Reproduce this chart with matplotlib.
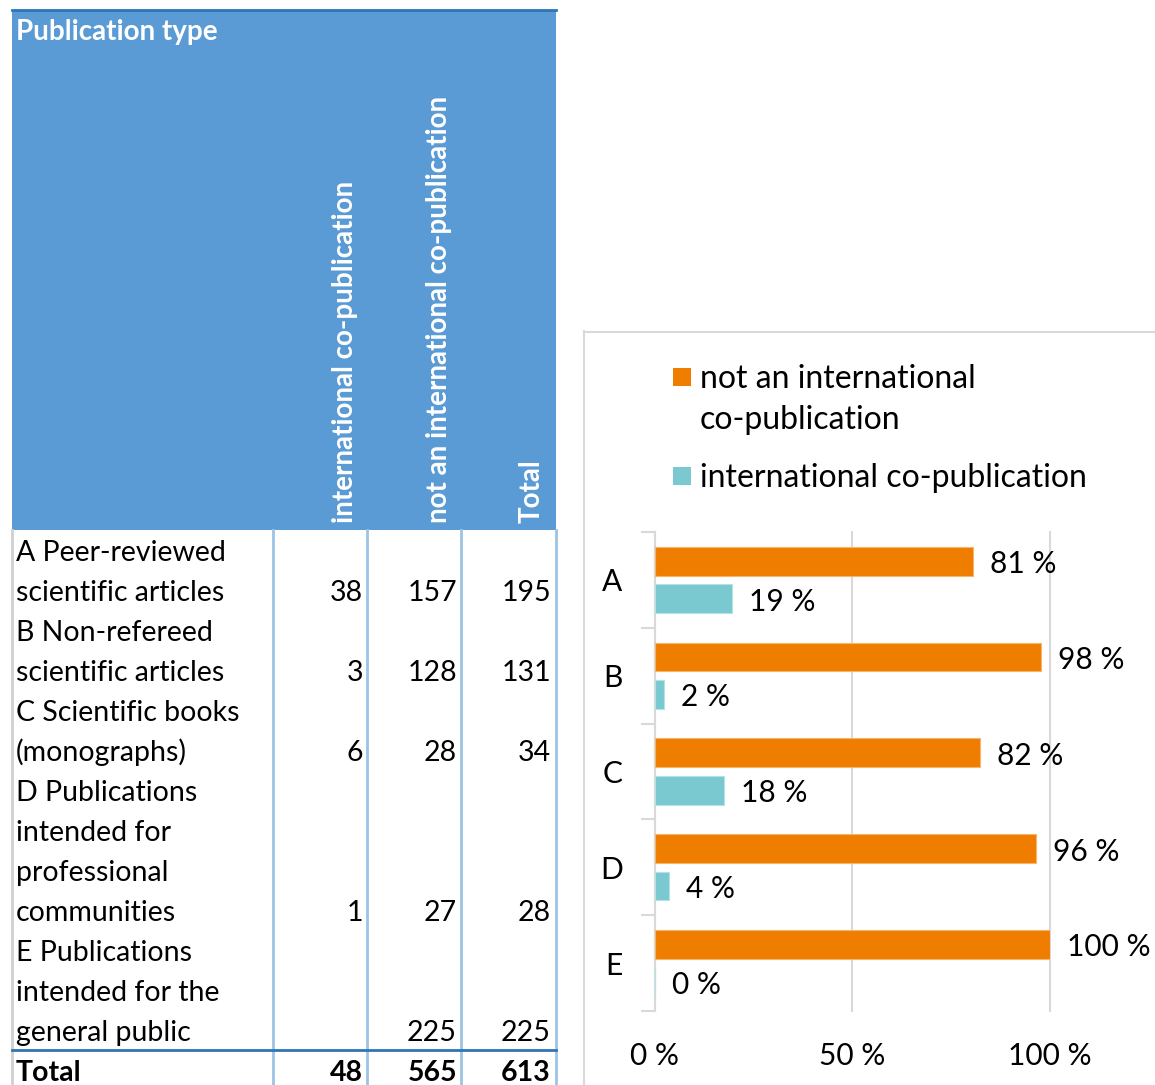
import matplotlib
matplotlib.use("Agg")
import matplotlib.pyplot as plt
from matplotlib.patches import Rectangle
import numpy as np

# ---------------- data ----------------
type_labels = [
    ["A Peer-reviewed", "scientific articles"],
    ["B Non-refereed", "scientific articles"],
    ["C Scientific books", "(monographs)"],
    ["D Publications", "intended for", "professional", "communities"],
    ["E Publications", "intended for the", "general public"],
]
col_headers = ["international co-publication", "not an international co-publication", "Total"]
intl_counts = [38, 3, 6, 1, None]
not_intl_counts = [157, 128, 28, 27, 225]
row_totals = [195, 131, 34, 28, 225]
total_row = [48, 565, 613]

categories = ["A", "B", "C", "D", "E"]
pct_not_intl = [81, 98, 82, 96, 100]
pct_intl = [19, 2, 18, 4, 0]
series_names = ["not an international\nco-publication", "international co-publication"]
xtick_vals = [0, 50, 100]
xtick_labels = ["0 %", "50 %", "100 %"]

# exact bar lengths from the counts
bar_not = [n / t * 100 for n, t in zip(not_intl_counts, row_totals)]
bar_intl = [(i or 0) / t * 100 for i, t in zip(intl_counts, row_totals)]

FONT = "Lato"
plt.rcParams["font.family"] = [FONT, "DejaVu Sans"]

W, H = 1155, 1085
fig = plt.figure(figsize=(W / 100, H / 100), dpi=100)
fig.patch.set_facecolor("white")

# ---------------- table (pixel coordinates) ----------------
bg = fig.add_axes([0, 0, 1, 1])
bg.set_xlim(0, W)
bg.set_ylim(H, 0)
bg.axis("off")

HEAD_BLUE = "#5B9BD5"
DARK_BLUE = "#2E75B6"
LIGHT_BLUE = "#9DC3E6"
tsize = 20.5

bg.add_patch(Rectangle((12, 10), 556 - 12, 530 - 10, facecolor=HEAD_BLUE, edgecolor="none"))
bg.plot([12, 556], [10, 10], color=DARK_BLUE, lw=2)
bg.text(16, 40, "Publication type", color="white", fontsize=20, fontweight="bold", va="baseline", ha="left")

head_x = [353, 447, 540]
for x, h in zip(head_x, col_headers):
    bg.text(x, 523, h, rotation=90, rotation_mode="anchor", ha="left", va="baseline",
            color="white", fontsize=20, fontweight="bold")

# grid lines of body
bg.plot([11.5, 11.5], [530, H], color="#D0D0D0", lw=2)
for x in [273, 367, 461, 556]:
    bg.plot([x, x], [530, H], color=LIGHT_BLUE, lw=2)
bg.plot([12, 556], [1050, 1050], color=DARK_BLUE, lw=2)

num_right = [363, 457, 551]
line = 0
for lines, a, b, c in zip(type_labels, intl_counts, not_intl_counts, row_totals):
    for k, t in enumerate(lines):
        bg.text(16, 561 + 40 * (line + k), t, fontsize=tsize, va="baseline", ha="left", color="black")
    yb = 561 + 40 * (line + len(lines) - 1)
    for xr, v in zip(num_right, [a, b, c]):
        if v is not None:
            bg.text(xr, yb, str(v), fontsize=tsize, va="baseline", ha="right", color="black")
    line += len(lines)
yb = 561 + 40 * line
bg.text(16, yb, "Total", fontsize=tsize, fontweight="bold", va="baseline", ha="left")
for xr, v in zip(num_right, total_row):
    bg.text(xr, yb, str(v), fontsize=tsize, fontweight="bold", va="baseline", ha="right")

# chart area border
bg.plot([583.5, 583.5], [331, H], color="#D9D9D9", lw=1.5)
bg.plot([583.5, W], [331.5, 331.5], color="#D9D9D9", lw=1.5)

# ---------------- bar chart ----------------
ORANGE = "#EF7D00"
CYAN = "#7AC8D0"
csize = 21.5
lsize = 23

x0, x1 = 654.5, 1050
y_top, y_bot = 532, 1011
ax = fig.add_axes([x0 / W, (H - y_bot) / H, (x1 - x0) / W, (y_bot - y_top) / H])
ax.set_facecolor("none")
ypos = np.arange(len(categories))
off, hgt = 0.195, 0.30
b1 = ax.barh(ypos - off, bar_not, height=hgt, color=ORANGE, edgecolor="#F7B46A", linewidth=0.8,
             label=series_names[0], zorder=3)
b2 = ax.barh(ypos + off, bar_intl, height=hgt, color=CYAN, edgecolor="#B5E2E6", linewidth=0.8,
             label=series_names[1], zorder=3)
for y, v, p in zip(ypos, bar_not, pct_not_intl):
    ax.annotate(f"{p} %", (v, y - off), xytext=(17, -3), textcoords="offset pixels",
                va="center", ha="left", fontsize=csize)
for y, v, p in zip(ypos, bar_intl, pct_intl):
    ax.annotate(f"{p} %", (v, y + off), xytext=(17, -3), textcoords="offset pixels",
                va="center", ha="left", fontsize=csize)

ax.set_xlim(0, 100)
ax.set_ylim(len(categories) - 0.5, -0.5)
ax.set_xticks(xtick_vals)
ax.set_xticklabels(xtick_labels, fontsize=csize)
ax.tick_params(axis="x", length=0, pad=22)
ax.set_yticks(ypos)
ax.set_yticklabels(categories, fontsize=csize)
ax.tick_params(axis="y", which="major", length=0, pad=23)
ax.set_yticks(np.arange(-0.5, len(categories)), minor=True)
ax.tick_params(axis="y", which="minor", length=10, color="#D9D9D9", width=1.5)
ax.grid(axis="x", color="#D9D9D9", lw=1.5, zorder=0)
for s in ["top", "right", "bottom"]:
    ax.spines[s].set_visible(False)
ax.spines["left"].set_color("#D9D9D9")
ax.spines["left"].set_linewidth(1.5)
for gl in ax.get_xgridlines():
    gl.set_clip_on(False)

# legend (drawn manually to match the layout: square aligned with first line)
leg_entries = [(series_names[0], ORANGE, 377), (series_names[1], CYAN, 476)]
for name, col, yc in leg_entries:
    bg.add_patch(Rectangle((673, yc - 9), 18, 18, facecolor=col, edgecolor="none"))
    for k, ln in enumerate(name.split("\n")):
        bg.text(700, yc + 2 + 41 * k, ln, fontsize=lsize, va="center", ha="left", color="black")

fig.savefig("out.png", dpi=100, facecolor="white")
